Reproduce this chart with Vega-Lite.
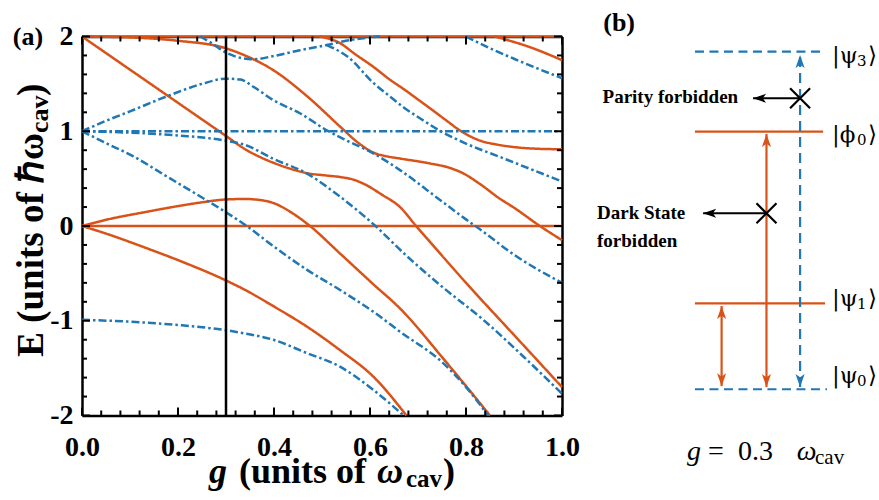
{
"$schema":"https://vega.github.io/schema/vega-lite/v6.json",
"width":480,"height":379,
"autosize":{"type":"none"},
"padding":{"left":82,"top":36.5,"right":317,"bottom":84.5},
"background":"white",
"config":{"view":{"stroke":null},"axis":{"grid":false,"title":null,"ticks":false,"domainColor":"black","domainWidth":2.5,"labelFont":"Liberation Serif","labelFontSize":28,"labelFontWeight":"bold","labelColor":"black","labelOverlap":false,"labelFlush":false}},
"datasets":{
"curves":[
{"series":"OA","parity":"even","g":0,"E":2},{"series":"OA","parity":"even","g":1,"E":2},
{"series":"OB","parity":"even","g":0,"E":0},{"series":"OB","parity":"even","g":1,"E":0},
{"series":"OC","parity":"even","g":0,"E":2},{"series":"OC","parity":"even","g":0.1,"E":1.65},{"series":"OC","parity":"even","g":0.2,"E":1.3},{"series":"OC","parity":"even","g":0.3,"E":0.95},{"series":"OC","parity":"even","g":0.34,"E":0.81},{"series":"OC","parity":"even","g":0.37,"E":0.73},{"series":"OC","parity":"even","g":0.4,"E":0.665},{"series":"OC","parity":"even","g":0.44,"E":0.595},{"series":"OC","parity":"even","g":0.47,"E":0.556},{"series":"OC","parity":"even","g":0.505,"E":0.535},{"series":"OC","parity":"even","g":0.54,"E":0.515},{"series":"OC","parity":"even","g":0.565,"E":0.49},{"series":"OC","parity":"even","g":0.585,"E":0.45},{"series":"OC","parity":"even","g":0.625,"E":0.33},{"series":"OC","parity":"even","g":0.6625,"E":0.2},{"series":"OC","parity":"even","g":0.696,"E":0},{"series":"OC","parity":"even","g":0.74,"E":-0.255},{"series":"OC","parity":"even","g":0.8,"E":-0.6},{"series":"OC","parity":"even","g":0.9,"E":-1.15},{"series":"OC","parity":"even","g":1,"E":-1.7},
{"series":"OD","parity":"even","g":0,"E":2},{"series":"OD","parity":"even","g":0.1,"E":1.99},{"series":"OD","parity":"even","g":0.2,"E":1.955},{"series":"OD","parity":"even","g":0.3,"E":1.875},{"series":"OD","parity":"even","g":0.33,"E":1.82},{"series":"OD","parity":"even","g":0.4,"E":1.64},{"series":"OD","parity":"even","g":0.47,"E":1.365},{"series":"OD","parity":"even","g":0.5375,"E":1.05},{"series":"OD","parity":"even","g":0.575,"E":0.88},{"series":"OD","parity":"even","g":0.607,"E":0.775},{"series":"OD","parity":"even","g":0.635,"E":0.735},{"series":"OD","parity":"even","g":0.6625,"E":0.712},{"series":"OD","parity":"even","g":0.725,"E":0.66},{"series":"OD","parity":"even","g":0.765,"E":0.615},{"series":"OD","parity":"even","g":0.794,"E":0.556},{"series":"OD","parity":"even","g":0.83,"E":0.44},{"series":"OD","parity":"even","g":0.87,"E":0.29},{"series":"OD","parity":"even","g":0.898,"E":0.2},{"series":"OD","parity":"even","g":0.954,"E":0},{"series":"OD","parity":"even","g":1,"E":-0.15},
{"series":"OE","parity":"even","g":0,"E":0},{"series":"OE","parity":"even","g":0.05,"E":0.065},{"series":"OE","parity":"even","g":0.135,"E":0.15},{"series":"OE","parity":"even","g":0.2,"E":0.21},{"series":"OE","parity":"even","g":0.25,"E":0.25},{"series":"OE","parity":"even","g":0.3,"E":0.28},{"series":"OE","parity":"even","g":0.34,"E":0.285},{"series":"OE","parity":"even","g":0.37,"E":0.275},{"series":"OE","parity":"even","g":0.4,"E":0.24},{"series":"OE","parity":"even","g":0.44,"E":0.13},{"series":"OE","parity":"even","g":0.475,"E":0},{"series":"OE","parity":"even","g":0.5375,"E":-0.29},{"series":"OE","parity":"even","g":0.607,"E":-0.615},{"series":"OE","parity":"even","g":0.6625,"E":-0.87},{"series":"OE","parity":"even","g":0.756,"E":-1.42},{"series":"OE","parity":"even","g":0.85,"E":-2},
{"series":"OF","parity":"even","g":0,"E":0},{"series":"OF","parity":"even","g":0.05,"E":-0.08},{"series":"OF","parity":"even","g":0.135,"E":-0.235},{"series":"OF","parity":"even","g":0.2,"E":-0.36},{"series":"OF","parity":"even","g":0.3,"E":-0.575},{"series":"OF","parity":"even","g":0.34,"E":-0.675},{"series":"OF","parity":"even","g":0.4,"E":-0.85},{"series":"OF","parity":"even","g":0.468,"E":-1.06},{"series":"OF","parity":"even","g":0.5375,"E":-1.31},{"series":"OF","parity":"even","g":0.607,"E":-1.59},{"series":"OF","parity":"even","g":0.676,"E":-2},
{"series":"OG","parity":"even","g":0.495,"E":2},{"series":"OG","parity":"even","g":0.5375,"E":1.93},{"series":"OG","parity":"even","g":0.57,"E":1.81},{"series":"OG","parity":"even","g":0.607,"E":1.68},{"series":"OG","parity":"even","g":0.64,"E":1.55},{"series":"OG","parity":"even","g":0.673,"E":1.435},{"series":"OG","parity":"even","g":0.7,"E":1.335},{"series":"OG","parity":"even","g":0.731,"E":1.22},{"series":"OG","parity":"even","g":0.76,"E":1.11},{"series":"OG","parity":"even","g":0.79,"E":1},{"series":"OG","parity":"even","g":0.83,"E":0.9},{"series":"OG","parity":"even","g":0.864,"E":0.86},{"series":"OG","parity":"even","g":0.905,"E":0.83},{"series":"OG","parity":"even","g":0.95,"E":0.815},{"series":"OG","parity":"even","g":1,"E":0.81},
{"series":"OH","parity":"even","g":0.86,"E":2},{"series":"OH","parity":"even","g":0.94,"E":1.875},{"series":"OH","parity":"even","g":1,"E":1.75},
{"series":"BA","parity":"odd","g":0,"E":1},{"series":"BA","parity":"odd","g":1,"E":1},
{"series":"BB","parity":"odd","g":0,"E":1},{"series":"BB","parity":"odd","g":0.05,"E":1.11},{"series":"BB","parity":"odd","g":0.1,"E":1.21},{"series":"BB","parity":"odd","g":0.18,"E":1.375},{"series":"BB","parity":"odd","g":0.25,"E":1.5},{"series":"BB","parity":"odd","g":0.3,"E":1.555},{"series":"BB","parity":"odd","g":0.33,"E":1.545},{"series":"BB","parity":"odd","g":0.357,"E":1.47},{"series":"BB","parity":"odd","g":0.398,"E":1.33},{"series":"BB","parity":"odd","g":0.454,"E":1.19},{"series":"BB","parity":"odd","g":0.51,"E":1.01},{"series":"BB","parity":"odd","g":0.55,"E":0.905},{"series":"BB","parity":"odd","g":0.606,"E":0.77},{"series":"BB","parity":"odd","g":0.6625,"E":0.59},{"series":"BB","parity":"odd","g":0.746,"E":0.274},{"series":"BB","parity":"odd","g":0.8,"E":0.07},{"series":"BB","parity":"odd","g":0.829,"E":-0.035},{"series":"BB","parity":"odd","g":0.905,"E":-0.32},{"series":"BB","parity":"odd","g":1,"E":-0.6},
{"series":"BC","parity":"odd","g":0.246,"E":2},{"series":"BC","parity":"odd","g":0.27,"E":1.93},{"series":"BC","parity":"odd","g":0.3,"E":1.83},{"series":"BC","parity":"odd","g":0.33,"E":1.775},{"series":"BC","parity":"odd","g":0.357,"E":1.76},{"series":"BC","parity":"odd","g":0.4,"E":1.795},{"series":"BC","parity":"odd","g":0.454,"E":1.855},{"series":"BC","parity":"odd","g":0.51,"E":1.91},{"series":"BC","parity":"odd","g":0.55,"E":1.955},{"series":"BC","parity":"odd","g":0.6,"E":1.99},{"series":"BC","parity":"odd","g":0.62,"E":2},
{"series":"BD","parity":"odd","g":0.51,"E":1.91},{"series":"BD","parity":"odd","g":0.5375,"E":1.84},{"series":"BD","parity":"odd","g":0.555,"E":1.78},{"series":"BD","parity":"odd","g":0.607,"E":1.51},{"series":"BD","parity":"odd","g":0.642,"E":1.365},{"series":"BD","parity":"odd","g":0.673,"E":1.24},{"series":"BD","parity":"odd","g":0.7,"E":1.15},{"series":"BD","parity":"odd","g":0.744,"E":1.01},{"series":"BD","parity":"odd","g":0.8,"E":0.87},{"series":"BD","parity":"odd","g":0.87,"E":0.73},{"series":"BD","parity":"odd","g":0.935,"E":0.6},{"series":"BD","parity":"odd","g":1,"E":0.47},
{"series":"BE","parity":"odd","g":0.8,"E":2},{"series":"BE","parity":"odd","g":0.857,"E":1.86},{"series":"BE","parity":"odd","g":0.9,"E":1.765},{"series":"BE","parity":"odd","g":1,"E":1.56},
{"series":"BF","parity":"odd","g":0,"E":1},{"series":"BF","parity":"odd","g":0.1,"E":0.985},{"series":"BF","parity":"odd","g":0.2,"E":0.955},{"series":"BF","parity":"odd","g":0.3,"E":0.9},{"series":"BF","parity":"odd","g":0.34,"E":0.855},{"series":"BF","parity":"odd","g":0.398,"E":0.71},{"series":"BF","parity":"odd","g":0.468,"E":0.556},{"series":"BF","parity":"odd","g":0.5375,"E":0.31},{"series":"BF","parity":"odd","g":0.607,"E":0.02},{"series":"BF","parity":"odd","g":0.673,"E":-0.3},{"series":"BF","parity":"odd","g":0.75,"E":-0.64},{"series":"BF","parity":"odd","g":0.836,"E":-0.99},{"series":"BF","parity":"odd","g":0.92,"E":-1.38},{"series":"BF","parity":"odd","g":1,"E":-1.77},
{"series":"BG","parity":"odd","g":0,"E":1},{"series":"BG","parity":"odd","g":0.05,"E":0.875},{"series":"BG","parity":"odd","g":0.107,"E":0.735},{"series":"BG","parity":"odd","g":0.176,"E":0.525},{"series":"BG","parity":"odd","g":0.26,"E":0.27},{"series":"BG","parity":"odd","g":0.3,"E":0.145},{"series":"BG","parity":"odd","g":0.343,"E":0},{"series":"BG","parity":"odd","g":0.398,"E":-0.21},{"series":"BG","parity":"odd","g":0.468,"E":-0.46},{"series":"BG","parity":"odd","g":0.5375,"E":-0.675},{"series":"BG","parity":"odd","g":0.607,"E":-0.905},{"series":"BG","parity":"odd","g":0.6625,"E":-1.115},{"series":"BG","parity":"odd","g":0.753,"E":-1.45},{"series":"BG","parity":"odd","g":0.8,"E":-1.7},{"series":"BG","parity":"odd","g":0.846,"E":-2},
{"series":"BH","parity":"odd","g":0,"E":-0.99},{"series":"BH","parity":"odd","g":0.1,"E":-1.01},{"series":"BH","parity":"odd","g":0.2,"E":-1.045},{"series":"BH","parity":"odd","g":0.3,"E":-1.1},{"series":"BH","parity":"odd","g":0.34,"E":-1.135},{"series":"BH","parity":"odd","g":0.398,"E":-1.2},{"series":"BH","parity":"odd","g":0.468,"E":-1.34},{"series":"BH","parity":"odd","g":0.5375,"E":-1.485},{"series":"BH","parity":"odd","g":0.607,"E":-1.73},{"series":"BH","parity":"odd","g":0.67,"E":-2}
],
"xticks":[
{"g":0,"kind":"major"},{"g":0.04,"kind":"minor"},{"g":0.08,"kind":"minor"},{"g":0.12,"kind":"minor"},{"g":0.16,"kind":"minor"},{"g":0.2,"kind":"major"},{"g":0.24,"kind":"minor"},{"g":0.28,"kind":"minor"},{"g":0.32,"kind":"minor"},{"g":0.36,"kind":"minor"},{"g":0.4,"kind":"major"},{"g":0.44,"kind":"minor"},{"g":0.48,"kind":"minor"},{"g":0.52,"kind":"minor"},{"g":0.56,"kind":"minor"},{"g":0.6,"kind":"major"},{"g":0.64,"kind":"minor"},{"g":0.68,"kind":"minor"},{"g":0.72,"kind":"minor"},{"g":0.76,"kind":"minor"},{"g":0.8,"kind":"major"},{"g":0.84,"kind":"minor"},{"g":0.88,"kind":"minor"},{"g":0.92,"kind":"minor"},{"g":0.96,"kind":"minor"},{"g":1,"kind":"major"}
],
"yticks":[
{"E":-2,"kind":"major"},{"E":-1.8,"kind":"minor"},{"E":-1.6,"kind":"minor"},{"E":-1.4,"kind":"minor"},{"E":-1.2,"kind":"minor"},{"E":-1,"kind":"major"},{"E":-0.8,"kind":"minor"},{"E":-0.6,"kind":"minor"},{"E":-0.4,"kind":"minor"},{"E":-0.2,"kind":"minor"},{"E":0,"kind":"major"},{"E":0.2,"kind":"minor"},{"E":0.4,"kind":"minor"},{"E":0.6,"kind":"minor"},{"E":0.8,"kind":"minor"},{"E":1,"kind":"major"},{"E":1.2,"kind":"minor"},{"E":1.4,"kind":"minor"},{"E":1.6,"kind":"minor"},{"E":1.8,"kind":"minor"},{"E":2,"kind":"major"}
],
"levels":[
{"state":"psi3","parity":"odd","x":1.277,"x2":1.548,"y":1.84},
{"state":"phi0","parity":"even","x":1.277,"x2":1.544,"y":0.995},
{"state":"psi1","parity":"even","x":1.277,"x2":1.548,"y":-0.816},
{"state":"psi0","parity":"odd","x":1.277,"x2":1.552,"y":-1.723}
],
"transitions":[
{"name":"psi0-psi3","parity":"odd","x":1.496,"y":-1.7,"y2":1.805},
{"name":"psi0-phi0","parity":"even","x":1.426,"y":-1.7,"y2":0.971},
{"name":"psi0-psi1","parity":"even","x":1.3325,"y":-1.69,"y2":-0.844}
],
"heads":[
{"dir":"up","parity":"odd","x":1.496,"y":1.805},
{"dir":"down","parity":"odd","x":1.496,"y":-1.7},
{"dir":"up","parity":"even","x":1.426,"y":0.971},
{"dir":"down","parity":"even","x":1.426,"y":-1.7},
{"dir":"up","parity":"even","x":1.3325,"y":-0.844},
{"dir":"down","parity":"even","x":1.3325,"y":-1.69}
],
"blocked":[
{"reason":"parity","x":1.496,"x2":1.398,"y":1.348},
{"reason":"dark","x":1.426,"x2":1.294,"y":0.134}
],
"notes":[
{"role":"panel","text":"(a)","x":-0.1125,"y":1.995},
{"role":"panel","text":"(b)","x":1.119,"y":2.142},
{"role":"ytitle_a","text":"E (units of ℏω","x":-0.104,"y":0.982},
{"role":"ytitle_sub","text":"cav","x":-0.0875,"y":0.982},
{"role":"ytitle_b","text":")","x":-0.104,"y":1.372},
{"role":"xtitle_i","text":"g","x":0.2646,"y":-2.712},
{"role":"xtitle","text":"(units of","x":0.3271,"y":-2.712},
{"role":"xtitle_i","text":"ω","x":0.6146,"y":-2.712},
{"role":"xtitle_sub","text":"cav","x":0.675,"y":-2.754},
{"role":"xtitle","text":")","x":0.7521,"y":-2.712},
{"role":"note_r","text":"Parity forbidden","x":1.367,"y":1.36},
{"role":"note_l","text":"Dark State","x":1.073,"y":0.137},
{"role":"note_l","text":"forbidden","x":1.073,"y":-0.158},
{"role":"ket","text":"|ψ","x":1.5625,"y":1.794},
{"role":"ket_sub","text":"3","x":1.6146,"y":1.744},
{"role":"ket","text":"⟩","x":1.6375,"y":1.794},
{"role":"ket","text":"|ϕ","x":1.5625,"y":0.96},
{"role":"ket_sub","text":"0","x":1.6146,"y":0.91},
{"role":"ket","text":"⟩","x":1.6375,"y":0.96},
{"role":"ket","text":"|ψ","x":1.5625,"y":-0.77},
{"role":"ket_sub","text":"1","x":1.6146,"y":-0.82},
{"role":"ket","text":"⟩","x":1.6375,"y":-0.77},
{"role":"ket","text":"|ψ","x":1.5625,"y":-1.583},
{"role":"ket_sub","text":"0","x":1.6146,"y":-1.633},
{"role":"ket","text":"⟩","x":1.6375,"y":-1.583},
{"role":"math_i","text":"g","x":1.2604,"y":-2.47},
{"role":"math","text":"=","x":1.3042,"y":-2.47},
{"role":"math","text":"0.3","x":1.3667,"y":-2.47},
{"role":"math_i","text":"ω","x":1.4889,"y":-2.47},
{"role":"math_sub","text":"cav","x":1.5271,"y":-2.51}
]
},
"layer":[
{"data":{"name":"curves"},
 "mark":{"type":"line","strokeWidth":2.5,"interpolate":"monotone"},
 "encoding":{
  "x":{"field":"g","type":"quantitative","scale":{"domain":[0,1],"nice":false,"zero":false},
   "axis":{"orient":"bottom","values":[0,0.2,0.4,0.6,0.8,1],"format":".1f","labelPadding":17.5}},
  "y":{"field":"E","type":"quantitative","scale":{"domain":[-2,2],"nice":false,"zero":false},
   "axis":{"orient":"left","values":[-2,-1,0,1,2],"labelExpr":"''+round(datum.value)","labelPadding":9}},
  "detail":{"field":"series"},
  "color":{"field":"parity","type":"nominal","scale":{"domain":["even","odd"],"range":["#D95319","#1F77B4"]},"legend":null},
  "strokeDash":{"field":"parity","type":"nominal","scale":{"domain":["even","odd"],"range":[[1,0],[8,3,2.5,3]]},"legend":null}
 }},
{"data":{"values":[{"g":0.3,"lo":-2,"hi":2}]},
 "mark":{"type":"rule","color":"black","strokeWidth":2.5},
 "encoding":{
  "x":{"field":"g","type":"quantitative","scale":{"domain":[0,1],"nice":false,"zero":false},
   "axis":{"orient":"top","labels":false}},
  "y":{"field":"lo","type":"quantitative","scale":{"domain":[-2,2],"nice":false,"zero":false},
   "axis":{"orient":"right","labels":false}},
  "y2":{"field":"hi"}
 }},
{"data":{"name":"xticks"},"transform":[{"filter":"datum.kind==='major'"}],
 "mark":{"type":"tick","orient":"vertical","size":8,"thickness":2,"color":"black","opacity":1,"yOffset":-4},
 "encoding":{"x":{"field":"g","type":"quantitative","scale":{"domain":[0,1],"nice":false,"zero":false},"axis":null},
  "y":{"datum":-2,"type":"quantitative","scale":{"domain":[-2,2],"nice":false,"zero":false},"axis":null}}},
{"data":{"name":"xticks"},"transform":[{"filter":"datum.kind==='minor'"}],
 "mark":{"type":"tick","orient":"vertical","size":5,"thickness":2,"color":"black","opacity":1,"yOffset":-2.5},
 "encoding":{"x":{"field":"g","type":"quantitative","scale":{"domain":[0,1],"nice":false,"zero":false},"axis":null},
  "y":{"datum":-2,"type":"quantitative","scale":{"domain":[-2,2],"nice":false,"zero":false},"axis":null}}},
{"data":{"name":"xticks"},"transform":[{"filter":"datum.kind==='major'"}],
 "mark":{"type":"tick","orient":"vertical","size":8,"thickness":2,"color":"black","opacity":1,"yOffset":4},
 "encoding":{"x":{"field":"g","type":"quantitative","scale":{"domain":[0,1],"nice":false,"zero":false},"axis":null},
  "y":{"datum":2,"type":"quantitative","scale":{"domain":[-2,2],"nice":false,"zero":false},"axis":null}}},
{"data":{"name":"xticks"},"transform":[{"filter":"datum.kind==='minor'"}],
 "mark":{"type":"tick","orient":"vertical","size":5,"thickness":2,"color":"black","opacity":1,"yOffset":2.5},
 "encoding":{"x":{"field":"g","type":"quantitative","scale":{"domain":[0,1],"nice":false,"zero":false},"axis":null},
  "y":{"datum":2,"type":"quantitative","scale":{"domain":[-2,2],"nice":false,"zero":false},"axis":null}}},
{"data":{"name":"yticks"},"transform":[{"filter":"datum.kind==='major'"}],
 "mark":{"type":"tick","orient":"horizontal","size":8,"thickness":2,"color":"black","opacity":1,"xOffset":4},
 "encoding":{"y":{"field":"E","type":"quantitative","scale":{"domain":[-2,2],"nice":false,"zero":false},"axis":null},
  "x":{"datum":0,"type":"quantitative","scale":{"domain":[0,1],"nice":false,"zero":false},"axis":null}}},
{"data":{"name":"yticks"},"transform":[{"filter":"datum.kind==='minor'"}],
 "mark":{"type":"tick","orient":"horizontal","size":5,"thickness":2,"color":"black","opacity":1,"xOffset":2.5},
 "encoding":{"y":{"field":"E","type":"quantitative","scale":{"domain":[-2,2],"nice":false,"zero":false},"axis":null},
  "x":{"datum":0,"type":"quantitative","scale":{"domain":[0,1],"nice":false,"zero":false},"axis":null}}},
{"data":{"name":"yticks"},"transform":[{"filter":"datum.kind==='major'"}],
 "mark":{"type":"tick","orient":"horizontal","size":8,"thickness":2,"color":"black","opacity":1,"xOffset":-4},
 "encoding":{"y":{"field":"E","type":"quantitative","scale":{"domain":[-2,2],"nice":false,"zero":false},"axis":null},
  "x":{"datum":1,"type":"quantitative","scale":{"domain":[0,1],"nice":false,"zero":false},"axis":null}}},
{"data":{"name":"yticks"},"transform":[{"filter":"datum.kind==='minor'"}],
 "mark":{"type":"tick","orient":"horizontal","size":5,"thickness":2,"color":"black","opacity":1,"xOffset":-2.5},
 "encoding":{"y":{"field":"E","type":"quantitative","scale":{"domain":[-2,2],"nice":false,"zero":false},"axis":null},
  "x":{"datum":1,"type":"quantitative","scale":{"domain":[0,1],"nice":false,"zero":false},"axis":null}}},
{"data":{"name":"levels"},"transform":[{"filter":"datum.parity==='even'"}],
 "mark":{"type":"rule","color":"#D95319","strokeWidth":2.2},
 "encoding":{"x":{"field":"x","type":"quantitative","scale":{"domain":[0,1],"nice":false,"zero":false},"axis":null},"x2":{"field":"x2"},
  "y":{"field":"y","type":"quantitative","scale":{"domain":[-2,2],"nice":false,"zero":false},"axis":null}}},
{"data":{"name":"levels"},"transform":[{"filter":"datum.parity==='odd'"}],
 "mark":{"type":"rule","color":"#1F77B4","strokeWidth":2.2,"strokeDash":[9,5.5]},
 "encoding":{"x":{"field":"x","type":"quantitative","scale":{"domain":[0,1],"nice":false,"zero":false},"axis":null},"x2":{"field":"x2"},
  "y":{"field":"y","type":"quantitative","scale":{"domain":[-2,2],"nice":false,"zero":false},"axis":null}}},
{"data":{"name":"transitions"},"transform":[{"filter":"datum.parity==='even'"}],
 "mark":{"type":"rule","color":"#D95319","strokeWidth":2.2},
 "encoding":{"x":{"field":"x","type":"quantitative","scale":{"domain":[0,1],"nice":false,"zero":false},"axis":null},
  "y":{"field":"y","type":"quantitative","scale":{"domain":[-2,2],"nice":false,"zero":false},"axis":null},"y2":{"field":"y2"}}},
{"data":{"name":"transitions"},"transform":[{"filter":"datum.parity==='odd'"}],
 "mark":{"type":"rule","color":"#1F77B4","strokeWidth":2.2,"strokeDash":[10,6]},
 "encoding":{"x":{"field":"x","type":"quantitative","scale":{"domain":[0,1],"nice":false,"zero":false},"axis":null},
  "y":{"field":"y","type":"quantitative","scale":{"domain":[-2,2],"nice":false,"zero":false},"axis":null},"y2":{"field":"y2"}}},
{"data":{"name":"blocked"},
 "mark":{"type":"rule","color":"black","strokeWidth":2},
 "encoding":{"x":{"field":"x","type":"quantitative","scale":{"domain":[0,1],"nice":false,"zero":false},"axis":null},"x2":{"field":"x2"},
  "y":{"field":"y","type":"quantitative","scale":{"domain":[-2,2],"nice":false,"zero":false},"axis":null}}},
{"data":{"name":"heads"},"transform":[{"filter":"datum.dir==='up'"}],
 "mark":{"type":"point","shape":"M0,0L0.7,2L0,1.5L-0.7,2Z","size":169,"filled":true,"opacity":1,"strokeWidth":0},
 "encoding":{"x":{"field":"x","type":"quantitative","scale":{"domain":[0,1],"nice":false,"zero":false},"axis":null},
  "y":{"field":"y","type":"quantitative","scale":{"domain":[-2,2],"nice":false,"zero":false},"axis":null},
  "color":{"field":"parity","type":"nominal","scale":{"domain":["even","odd"],"range":["#D95319","#1F77B4"]},"legend":null}}},
{"data":{"name":"heads"},"transform":[{"filter":"datum.dir==='down'"}],
 "mark":{"type":"point","shape":"M0,0L0.7,2L0,1.5L-0.7,2Z","size":169,"filled":true,"opacity":1,"strokeWidth":0,"angle":180},
 "encoding":{"x":{"field":"x","type":"quantitative","scale":{"domain":[0,1],"nice":false,"zero":false},"axis":null},
  "y":{"field":"y","type":"quantitative","scale":{"domain":[-2,2],"nice":false,"zero":false},"axis":null},
  "color":{"field":"parity","type":"nominal","scale":{"domain":["even","odd"],"range":["#D95319","#1F77B4"]},"legend":null}}},
{"data":{"name":"blocked"},
 "mark":{"type":"point","shape":"M0,0L0.7,2L0,1.5L-0.7,2Z","size":169,"filled":true,"opacity":1,"strokeWidth":0,"angle":270,"color":"black"},
 "encoding":{"x":{"field":"x2","type":"quantitative","scale":{"domain":[0,1],"nice":false,"zero":false},"axis":null},
  "y":{"field":"y","type":"quantitative","scale":{"domain":[-2,2],"nice":false,"zero":false},"axis":null}}},
{"data":{"name":"blocked"},
 "mark":{"type":"point","shape":"M-1,-1L1,1M-1,1L1,-1","size":400,"filled":false,"opacity":1,"stroke":"black","strokeWidth":2.2},
 "encoding":{"x":{"field":"x","type":"quantitative","scale":{"domain":[0,1],"nice":false,"zero":false},"axis":null},
  "y":{"field":"y","type":"quantitative","scale":{"domain":[-2,2],"nice":false,"zero":false},"axis":null}}},
{"data":{"name":"notes"},"transform":[{"filter":"datum.role==='panel'"}],
 "mark":{"type":"text","font":"Liberation Serif","fontSize":26,"fontWeight":"bold","align":"center","baseline":"middle","color":"black"},
 "encoding":{"x":{"field":"x","type":"quantitative","scale":{"domain":[0,1],"nice":false,"zero":false},"axis":null},"y":{"field":"y","type":"quantitative","scale":{"domain":[-2,2],"nice":false,"zero":false},"axis":null},"text":{"field":"text"}}},
{"data":{"name":"notes"},"transform":[{"filter":"datum.role==='ytitle_a'"}],
 "mark":{"type":"text","font":"Liberation Serif","fontSize":37,"fontWeight":"bold","align":"right","baseline":"middle","angle":270,"color":"black"},
 "encoding":{"x":{"field":"x","type":"quantitative","scale":{"domain":[0,1],"nice":false,"zero":false},"axis":null},"y":{"field":"y","type":"quantitative","scale":{"domain":[-2,2],"nice":false,"zero":false},"axis":null},"text":{"field":"text"}}},
{"data":{"name":"notes"},"transform":[{"filter":"datum.role==='ytitle_b'"}],
 "mark":{"type":"text","font":"Liberation Serif","fontSize":37,"fontWeight":"bold","align":"left","baseline":"middle","angle":270,"color":"black"},
 "encoding":{"x":{"field":"x","type":"quantitative","scale":{"domain":[0,1],"nice":false,"zero":false},"axis":null},"y":{"field":"y","type":"quantitative","scale":{"domain":[-2,2],"nice":false,"zero":false},"axis":null},"text":{"field":"text"}}},
{"data":{"name":"notes"},"transform":[{"filter":"datum.role==='ytitle_sub'"}],
 "mark":{"type":"text","font":"Liberation Serif","fontSize":26,"fontWeight":"bold","align":"left","baseline":"middle","angle":270,"color":"black"},
 "encoding":{"x":{"field":"x","type":"quantitative","scale":{"domain":[0,1],"nice":false,"zero":false},"axis":null},"y":{"field":"y","type":"quantitative","scale":{"domain":[-2,2],"nice":false,"zero":false},"axis":null},"text":{"field":"text"}}},
{"data":{"name":"notes"},"transform":[{"filter":"datum.role==='xtitle_i'"}],
 "mark":{"type":"text","font":"Liberation Serif","fontSize":36,"fontWeight":"bold","fontStyle":"italic","align":"left","baseline":"alphabetic","color":"black"},
 "encoding":{"x":{"field":"x","type":"quantitative","scale":{"domain":[0,1],"nice":false,"zero":false},"axis":null},"y":{"field":"y","type":"quantitative","scale":{"domain":[-2,2],"nice":false,"zero":false},"axis":null},"text":{"field":"text"}}},
{"data":{"name":"notes"},"transform":[{"filter":"datum.role==='xtitle'"}],
 "mark":{"type":"text","font":"Liberation Serif","fontSize":36,"fontWeight":"bold","align":"left","baseline":"alphabetic","color":"black"},
 "encoding":{"x":{"field":"x","type":"quantitative","scale":{"domain":[0,1],"nice":false,"zero":false},"axis":null},"y":{"field":"y","type":"quantitative","scale":{"domain":[-2,2],"nice":false,"zero":false},"axis":null},"text":{"field":"text"}}},
{"data":{"name":"notes"},"transform":[{"filter":"datum.role==='xtitle_sub'"}],
 "mark":{"type":"text","font":"Liberation Serif","fontSize":25,"fontWeight":"bold","align":"left","baseline":"alphabetic","color":"black"},
 "encoding":{"x":{"field":"x","type":"quantitative","scale":{"domain":[0,1],"nice":false,"zero":false},"axis":null},"y":{"field":"y","type":"quantitative","scale":{"domain":[-2,2],"nice":false,"zero":false},"axis":null},"text":{"field":"text"}}},
{"data":{"name":"notes"},"transform":[{"filter":"datum.role==='note_r'"}],
 "mark":{"type":"text","font":"Liberation Serif","fontSize":19,"fontWeight":"bold","align":"right","baseline":"middle","color":"black"},
 "encoding":{"x":{"field":"x","type":"quantitative","scale":{"domain":[0,1],"nice":false,"zero":false},"axis":null},"y":{"field":"y","type":"quantitative","scale":{"domain":[-2,2],"nice":false,"zero":false},"axis":null},"text":{"field":"text"}}},
{"data":{"name":"notes"},"transform":[{"filter":"datum.role==='note_l'"}],
 "mark":{"type":"text","font":"Liberation Serif","fontSize":19,"fontWeight":"bold","align":"left","baseline":"middle","color":"black"},
 "encoding":{"x":{"field":"x","type":"quantitative","scale":{"domain":[0,1],"nice":false,"zero":false},"axis":null},"y":{"field":"y","type":"quantitative","scale":{"domain":[-2,2],"nice":false,"zero":false},"axis":null},"text":{"field":"text"}}},
{"data":{"name":"notes"},"transform":[{"filter":"datum.role==='ket'"}],
 "mark":{"type":"text","font":"DejaVu Serif","fontSize":23,"align":"left","baseline":"middle","color":"black"},
 "encoding":{"x":{"field":"x","type":"quantitative","scale":{"domain":[0,1],"nice":false,"zero":false},"axis":null},"y":{"field":"y","type":"quantitative","scale":{"domain":[-2,2],"nice":false,"zero":false},"axis":null},"text":{"field":"text"}}},
{"data":{"name":"notes"},"transform":[{"filter":"datum.role==='ket_sub'"}],
 "mark":{"type":"text","font":"DejaVu Serif","fontSize":15,"align":"left","baseline":"middle","color":"black"},
 "encoding":{"x":{"field":"x","type":"quantitative","scale":{"domain":[0,1],"nice":false,"zero":false},"axis":null},"y":{"field":"y","type":"quantitative","scale":{"domain":[-2,2],"nice":false,"zero":false},"axis":null},"text":{"field":"text"}}},
{"data":{"name":"notes"},"transform":[{"filter":"datum.role==='math_i'"}],
 "mark":{"type":"text","font":"Liberation Serif","fontSize":28,"fontStyle":"italic","align":"left","baseline":"alphabetic","color":"black"},
 "encoding":{"x":{"field":"x","type":"quantitative","scale":{"domain":[0,1],"nice":false,"zero":false},"axis":null},"y":{"field":"y","type":"quantitative","scale":{"domain":[-2,2],"nice":false,"zero":false},"axis":null},"text":{"field":"text"}}},
{"data":{"name":"notes"},"transform":[{"filter":"datum.role==='math'"}],
 "mark":{"type":"text","font":"Liberation Serif","fontSize":28,"align":"left","baseline":"alphabetic","color":"black"},
 "encoding":{"x":{"field":"x","type":"quantitative","scale":{"domain":[0,1],"nice":false,"zero":false},"axis":null},"y":{"field":"y","type":"quantitative","scale":{"domain":[-2,2],"nice":false,"zero":false},"axis":null},"text":{"field":"text"}}},
{"data":{"name":"notes"},"transform":[{"filter":"datum.role==='math_sub'"}],
 "mark":{"type":"text","font":"Liberation Serif","fontSize":21,"align":"left","baseline":"alphabetic","color":"black"},
 "encoding":{"x":{"field":"x","type":"quantitative","scale":{"domain":[0,1],"nice":false,"zero":false},"axis":null},"y":{"field":"y","type":"quantitative","scale":{"domain":[-2,2],"nice":false,"zero":false},"axis":null},"text":{"field":"text"}}}
],
"resolve":{"axis":{"x":"independent","y":"independent"}}
}
